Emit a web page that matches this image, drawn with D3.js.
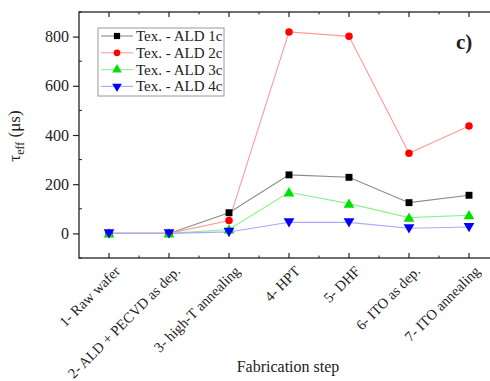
<!DOCTYPE html>
<html><head><meta charset="utf-8">
<script src="https://cdn.jsdelivr.net/npm/d3@7"></script>
<style>body{margin:0;background:#fff}svg{display:block}text{font-family:"Liberation Serif","Times New Roman",serif;fill:#222}</style>
</head><body><svg id="c" width="490" height="381"></svg>
<script>
const categories = ["1- Raw wafer","2- ALD + PECVD as dep.","3- high-T annealing","4- HPT","5- DHF","6- ITO as dep.","7- ITO annealing"];
const seriesNames = ["Tex. - ALD 1c","Tex. - ALD 2c","Tex. - ALD 3c","Tex. - ALD 4c"];
const ald1 = [0, 0, 84, 238, 228, 125, 155];
const ald2 = [0, 0, 52, 819, 801, 326, 437];
const ald3 = [0, 0, 16, 167, 121, 64, 74];
const ald4 = [0, 0, 6, 45, 45, 21, 26];
const yTicks = [0, 200, 400, 600, 800];

const seriesValues = [ald1, ald2, ald3, ald4];
const markerColors = ["#000000", "#ff0000", "#00e000", "#0000ff"];
const lineColors = ["#8a8a8a", "#ff9a9a", "#8cf08c", "#a8a8ff"];
const symbols = [d3.symbolSquare, d3.symbolCircle, d3.symbolTriangle, d3.symbolTriangle];
const symSize = [48, 44, 50, 50];
const symRot = [0, 0, 0, 180];

const svg = d3.select("#c");
const L = 79, R = 499, T = 12, B = 258;
const x = d3.scaleLinear().domain([0.5, 7.5]).range([L, R]);
const y = d3.scaleLinear().domain([-100, 900]).range([B, T]);

// frame
svg.append("rect").attr("x", L).attr("y", T).attr("width", R - L).attr("height", B - T)
  .attr("fill", "none").attr("stroke", "#222").attr("stroke-width", 1.3);

// y axis (major ticks outward)
const yAxis = svg.append("g").attr("transform", `translate(${L},0)`)
  .call(d3.axisLeft(y).tickValues(yTicks).tickSize(6).tickPadding(4).tickFormat(d3.format("d")));
yAxis.select(".domain").remove();
yAxis.selectAll("line").attr("stroke", "#222").attr("stroke-width", 1.2);
yAxis.selectAll("text").style("font-size", "16px").style("font-family", '"Liberation Serif",serif').attr("fill", "#222");
// y minor ticks inward
const yMinor = d3.range(-100, 901, 100).filter(v => yTicks.indexOf(v) < 0);
svg.append("g").selectAll("line").data(yMinor).join("line")
  .attr("x1", L).attr("x2", L + 3).attr("y1", d => y(d)).attr("y2", d => y(d))
  .attr("stroke", "#222").attr("stroke-width", 1);

// x ticks inward on bottom and top
const xIdx = d3.range(1, 8);
const xMinor = d3.range(1.5, 7.5, 1);
const tg = svg.append("g").attr("stroke", "#222");
tg.selectAll("line.b").data(xIdx).join("line").attr("class", "b")
  .attr("x1", d => x(d)).attr("x2", d => x(d)).attr("y1", B).attr("y2", B - 5).attr("stroke-width", 1.2);
tg.selectAll("line.t").data(xIdx).join("line").attr("class", "t")
  .attr("x1", d => x(d)).attr("x2", d => x(d)).attr("y1", T).attr("y2", T + 5).attr("stroke-width", 1.2);
tg.selectAll("line.bm").data(xMinor).join("line").attr("class", "bm")
  .attr("x1", d => x(d)).attr("x2", d => x(d)).attr("y1", B).attr("y2", B - 2.5).attr("stroke-width", 1);
tg.selectAll("line.tm").data(xMinor).join("line").attr("class", "tm")
  .attr("x1", d => x(d)).attr("x2", d => x(d)).attr("y1", T).attr("y2", T + 2.5).attr("stroke-width", 1);

// x labels rotated
svg.append("g").selectAll("text").data(categories).join("text")
  .attr("transform", (d, i) => `translate(${x(i + 1) + 12},${B + 14}) rotate(-45)`)
  .attr("text-anchor", "end").style("font-size", "14.5px").text(d => d);

// series lines + markers
const line = d3.line().x((d, i) => x(i + 1)).y(d => y(d));
seriesValues.forEach((vals, s) => {
  svg.append("path").datum(vals).attr("d", line).attr("fill", "none")
    .attr("stroke", lineColors[s]).attr("stroke-width", 1.1);
});
seriesValues.forEach((vals, s) => {
  svg.append("g").selectAll("path").data(vals).join("path")
    .attr("d", d3.symbol().type(symbols[s]).size(symSize[s]))
    .attr("transform", (d, i) => `translate(${x(i + 1)},${y(d) + (s === 2 ? 1 : s === 3 ? -1 : 0)}) rotate(${symRot[s]})`)
    .attr("fill", markerColors[s]);
});

// legend
const lg = svg.append("g");
lg.append("rect").attr("x", 98).attr("y", 28).attr("width", 126).attr("height", 68)
  .attr("fill", "#fff").attr("stroke", "#999").attr("stroke-width", 1);
seriesNames.forEach((n, s) => {
  const cy = 36 + s * 16.8;
  lg.append("line").attr("x1", 101).attr("x2", 133).attr("y1", cy).attr("y2", cy)
    .attr("stroke", lineColors[s]).attr("stroke-width", 1.1);
  lg.append("path").attr("d", d3.symbol().type(symbols[s]).size(symSize[s] * 0.8))
    .attr("transform", `translate(117,${cy}) rotate(${symRot[s]})`).attr("fill", markerColors[s]);
  lg.append("text").attr("x", 136).attr("y", cy + 5).style("font-size", "15px").text(n);
});

// panel label
svg.append("text").attr("x", 456).attr("y", 49).style("font-size", "21px").style("font-weight", "bold").attr("fill", "#111").text("c)");

// axis titles
const yt = svg.append("text").attr("transform", "translate(20,136) rotate(-90)")
  .attr("text-anchor", "middle").style("font-size", "17px");
yt.append("tspan").text("τ");
yt.append("tspan").attr("dy", 4).style("font-size", "12px").text("eff");
yt.append("tspan").attr("dy", -4).text(" (μs)");

svg.append("text").attr("x", 288).attr("y", 372).attr("text-anchor", "middle")
  .style("font-size", "16px").text("Fabrication step");
</script></body></html>
